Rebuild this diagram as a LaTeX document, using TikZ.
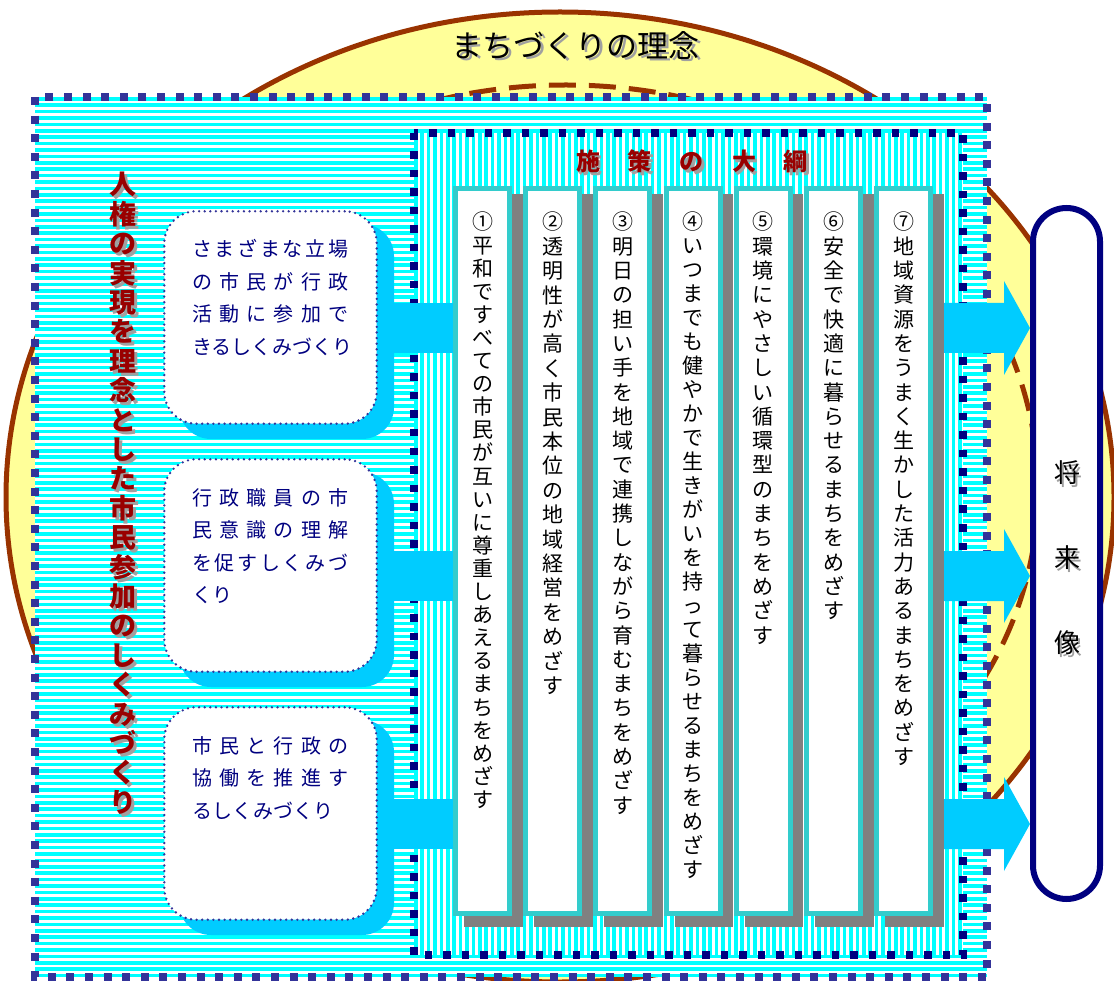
\documentclass[tikz,border=0pt]{standalone}
\usepackage{fontspec}
\newfontfamily\jp{Noto Sans CJK JP}
\usetikzlibrary{calc}
\definecolor{yel}{HTML}{FFFF99}
\definecolor{brn}{HTML}{993300}
\definecolor{cyn}{HTML}{00FFFF}
\definecolor{sky}{HTML}{00CCFF}
\definecolor{tealc}{HTML}{33CCCC}
\definecolor{navyA}{HTML}{333399}
\definecolor{navyB}{HTML}{000080}
\definecolor{dred}{HTML}{990000}
\definecolor{grayc}{HTML}{808080}
\definecolor{shd}{HTML}{A0A0A0}
\def\vcolA#1{\ifx#1\relax\else\hbox to 0pt{\hss#1\hss}\expandafter\vcolA\fi}
\newcommand\vcolumn[2]{\vtop{\baselineskip=#1\relax\lineskiplimit=-100pt\relax\expandafter\vcolA#2\relax}}
\def\spreadB#1{\ifx#1\relax\else\hfil#1\expandafter\spreadB\fi}
\def\spreadA#1#2\relax{#1\spreadB#2\relax}
\newcommand\jline[1]{\hbox to 156pt{\spreadA#1\relax}}
\tikzset{
 dotborderA/.style={draw=navyA, line width=8pt, dash pattern=on 8pt off 10.6pt},
 dotborderB/.style={draw=navyB, line width=7.5pt, dash pattern=on 7.5pt off 11pt},
 infobox/.style={draw=navyA, line width=2.6pt, dash pattern=on 0pt off 5.6pt, line cap=round, fill=white, rounded corners=32pt, minimum width=212.4pt, minimum height=212.4pt, inner sep=0pt},
 boxshadow/.style={fill=sky, rounded corners=32pt},
 bar/.style={draw=sky, line width=50pt},
 colbox/.style={draw=tealc, line width=5pt, fill=white, minimum width=54pt, minimum height=725pt, inner sep=0pt},
 colshadow/.style={fill=grayc},
 coltext/.style={font=\jp\fontsize{21pt}{21pt}\selectfont, inner sep=0pt, anchor=base},
 boxtext/.style={font=\jp\fontsize{20pt}{20pt}\selectfont, text=navyB, inner sep=0pt, anchor=base west},
 futbox/.style={draw=navyB, line width=6pt, fill=white, rounded corners=33.5pt, minimum width=67pt, minimum height=691pt, inner sep=0pt},
 arrowfill/.style={fill=sky},
 futtext/.style={font=\jp\fontsize{26pt}{26pt}\selectfont, inner sep=0pt},
}
\begin{document}
\begin{tikzpicture}[x=1pt,y=-1pt]
\useasboundingbox (0,0) rectangle (1114,981);
% big ellipse
\fill[yel] (560,497) ellipse [x radius=554pt, y radius=485pt];
\draw[brn, line width=5pt] (560,497) ellipse [x radius=554pt, y radius=485pt];
\draw[brn, line width=5pt, dash pattern=on 27pt off 13pt] (566,490) ellipse [x radius=472pt, y radius=405pt];
% outer rectangle
\fill[white] (35,97) rectangle (987,977);
\begin{scope}
\clip (35,97) rectangle (987,977);
\foreach \k in {0,...,138} {\fill[cyn] (35,{97+6.4*\k}) rectangle (987,{97+6.4*\k+3.6});}
\end{scope}
\draw[dotborderA] (35,97) rectangle (987,977);
% inner rectangle
\fill[white] (414,133) rectangle (963,955);
\begin{scope}
\clip (414,133) rectangle (963,955);
\foreach \k in {0,...,86} {\fill[cyn] ({414+6.4*\k},133) rectangle ({414+6.4*\k+3.6},955);}
\end{scope}
\draw[dotborderB] (414,133) rectangle (963,955);
% coordinates for connector rows
\coordinate (r1) at (0,328);
\coordinate (r2) at (0,576);
\coordinate (r3) at (0,824);
% left boxes
\foreach \j/\yy in {1/210,2/458,3/706} {
  \fill[boxshadow] (179,{\yy+14}) rectangle (394,{\yy+229});
}
\node[infobox] (b1) at (270.5,317.5) {};
\node[infobox] (b2) at (270.5,565.5) {};
\node[infobox] (b3) at (270.5,813.5) {};
% columns
\foreach \i/\cp/\ctext in {
 1/23.1/{①平和ですべての市民が互いに尊重しあえるまちをめざす},
 2/24.4/{②透明性が高く市民本位の地域経営をめざす},
 3/24.3/{③明日の担い手を地域で連携しながら育むまちをめざす},
 4/24.0/{④いつまでも健やかで生きがいを持って暮らせるまちをめざす},
 5/24.3/{⑤環境にやさしい循環型のまちをめざす},
 6/24.3/{⑥安全で快適に暮らせるまちをめざす},
 7/24.3/{⑦地域資源をうまく生かした活力あるまちをめざす}} {
  \pgfmathsetmacro\L{453+70.2*(\i-1)}
  \fill[colshadow] ({\L+11},194) rectangle ({\L+69.5},927);
  \node[colbox] (c\i) at ({\L+29.5},551) {};
  \node[coltext] (t\i) at ({\L+29.5},230) {\vcolumn{\cp pt}{\ctext}};
}
% bars from boxes to first column
\draw[bar] (b1.east |- r1) -- (c1.west |- r1);
\draw[bar] (b2.east |- r2) -- (c1.west |- r2);
\draw[bar] (b3.east |- r3) -- (c1.west |- r3);
% future box
\node[futbox] (fut) at (1066.5,553.5) {};
% arrows
\foreach \r in {r1,r2,r3} {
 \fill[arrowfill] let \p1=(c7.east |- \r), \p2=(fut.west |- \r) in
   (\x1+11pt,\y1+25pt) -- (\x2-26pt,\y1+25pt) -- (\x2-26pt,\y1+47pt) -- (\x2,\y1)
   -- (\x2-26pt,\y1-47pt) -- (\x2-26pt,\y1-25pt) -- (\x1+11pt,\y1-25pt) -- cycle;
}
% box texts
\node[boxtext] (bt1) at (192,257) {\vtop{\baselineskip=32.5pt\jline{さまざまな立場}\jline{の市民が行政}\jline{活動に参加で}\hbox{きるしくみづくり}}};
\node[boxtext] (bt2) at (192,505) {\vtop{\baselineskip=32.5pt\jline{行政職員の市}\jline{民意識の理解}\jline{を促すしくみづ}\hbox{くり}}};
\node[boxtext] (bt3) at (192,753) {\vtop{\baselineskip=32.5pt\jline{市民と行政の}\jline{協働を推進す}\hbox{るしくみづくり}}};
% titles
\node[font=\jp\fontsize{31pt}{31pt}\selectfont, text=shd, inner sep=0pt] (ttls) at (578,48) {まちづくりの理念};
\node[font=\jp\fontsize{31pt}{31pt}\selectfont, text=black, inner sep=0pt] (ttl) at (575.5,45.5) {まちづくりの理念};
\node[font=\jp\bfseries\fontsize{24pt}{24pt}\selectfont, text=shd, inner sep=0pt] (hds) at (694.5,164) {施\hspace{28pt}策\hspace{28pt}の\hspace{28pt}大\hspace{28pt}綱};
\node[font=\jp\bfseries\fontsize{24pt}{24pt}\selectfont, text=dred, inner sep=0pt] (hd) at (692,161.5) {施\hspace{28pt}策\hspace{28pt}の\hspace{28pt}大\hspace{28pt}綱};
\node[font=\jp\bfseries\fontsize{27pt}{27pt}\selectfont, text=shd, inner sep=0pt, anchor=base] (lts) at (126,198) {\vcolumn{29.4pt}{人権の実現を理念とした市民参加のしくみづくり}};
\node[font=\jp\bfseries\fontsize{27pt}{27pt}\selectfont, text=dred, inner sep=0pt, anchor=base] (lt) at (123,195) {\vcolumn{29.4pt}{人権の実現を理念とした市民参加のしくみづくり}};
\foreach \ch/\yy/\nm in {将/473/f1,来/558/f2,像/643/f3} {
 \node[futtext, text=shd] (\nm s) at (1069.5,{\yy+2.5}) {\ch};
 \node[futtext, text=black] (\nm) at (1067,\yy) {\ch};
}
\end{tikzpicture}
\end{document}
